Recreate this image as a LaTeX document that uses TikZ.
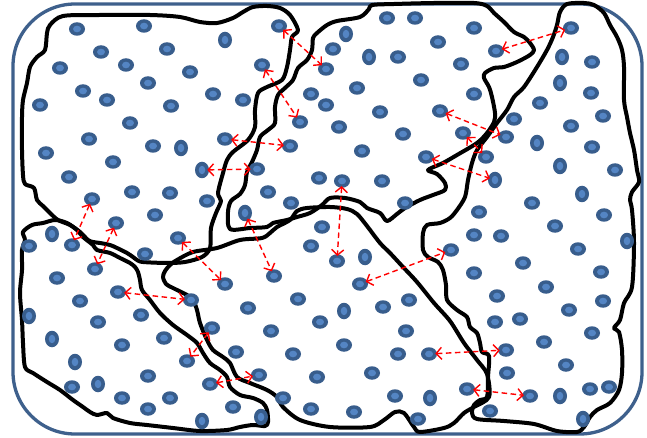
\documentclass[tikz,border=0pt]{standalone}
\usetikzlibrary{shapes.geometric,arrows.meta}
\definecolor{frameblue}{RGB}{62,96,140}
\definecolor{dotout}{RGB}{56,93,140}
\definecolor{dotin}{RGB}{84,133,196}
\definecolor{arrred}{RGB}{255,0,0}
\tikzset{
  region/.style={draw=black, line width=4pt, line join=round, line cap=round},
  frame/.style={draw=frameblue, line width=3.3pt, rounded corners=62pt},
  dotw/.style={ellipse, inner sep=0pt, minimum width=16pt, minimum height=13.5pt, fill=dotout,
    path picture={\fill[dotin] (path picture bounding box.center) ellipse (4pt and 3.3pt);}},
  dott/.style={ellipse, inner sep=0pt, minimum width=14pt, minimum height=16.5pt, fill=dotout,
    path picture={\fill[dotin] (path picture bounding box.center) ellipse (3.3pt and 4.2pt);}},
  arr/.style={draw=arrred, line width=1.4pt, dash pattern=on 5.5pt off 3.5pt,
    {Straight Barb[length=5.5pt,width=12pt,line width=1.4pt]}-{Straight Barb[length=5.5pt,width=12pt,line width=1.4pt]},
    shorten >=-2pt, shorten <=-2pt}
}
\begin{document}
\begin{tikzpicture}[x=1pt,y=-1pt]
\useasboundingbox (0,0) rectangle (647,438);
\fill[white] (0,0) rectangle (647,438);
\draw[frame] (13,4) rectangle (642,434);

% region A (top left)
\draw[region] plot[smooth cycle, tension=0.5] coordinates {
(63,16) (100,15) (150,15) (180,17) (200,22) (217,23) (233,18) (243,12) (253,7) (267,6) (280,8) (290,15) (298,30) (292,37) (290,50) (287,67) (282,80) (267,87) (258,93) (255,110) (255,127) (248,140) (233,152) (227,160) (223,173) (218,193) (221,201) (216,213) (211,228) (210,248) (202,257) (185,262) (167,263) (143,262) (137,260) (133,257) (127,253) (117,248) (110,245) (100,243) (93,242) (88,240) (80,232) (70,225) (58,220) (50,213) (43,206) (37,200) (34,188) (25,184) (23,175) (22,150) (22,117) (23,100) (27,83) (30,67) (37,57) (45,50) (47,33) (50,25)};

% region B (top middle)
\draw[region] plot[smooth cycle, tension=0.5] coordinates {
(317,33) (327,25) (337,21) (360,17) (369,9) (372,5) (394,4) (434,3) (474,3) (487,6) (494,13) (504,22) (514,32) (524,37) (530,43) (534,50) (530,55) (517,62) (504,67) (494,68) (485,73) (484,78) (489,87) (492,97) (495,113) (494,122) (487,133) (477,143) (457,155) (443,163) (428,170) (437,174) (445,183) (445,190) (433,195) (420,200) (405,208) (397,214) (387,221) (380,213) (367,208) (360,202) (345,198) (330,198) (322,205) (310,213) (297,217) (287,220) (273,223) (267,227) (250,228) (230,229) (228,212) (231,201) (240,194) (245,185) (247,172) (252,162) (257,150) (260,137) (268,130) (275,123) (275,107) (278,95) (285,88) (293,80) (298,68) (307,60) (312,50) (313,38)};

% region C (bottom middle)
\draw[region] plot[smooth cycle, tension=0.5] coordinates {
(165,271) (170,265) (177,260) (193,252) (217,248) (240,240) (262,238) (270,233) (277,227) (290,220) (297,211) (307,208) (330,207) (347,209) (357,214) (367,226) (380,243) (390,253) (403,267) (417,282) (434,303) (450,321) (464,343) (477,360) (487,374) (489,397) (474,407) (464,413) (454,423) (444,428) (420,432) (414,427) (404,413) (395,412) (384,420) (370,427) (330,427) (300,420) (283,407) (277,397) (267,390) (250,383) (237,377) (230,363) (223,357) (213,350) (207,340) (200,323) (197,310) (193,300) (187,295) (173,288) (166,284) (163,277)};

% region D (right)
\draw[region] plot[smooth cycle, tension=0.5] coordinates {
(567,4) (560,12) (557,25) (553,37) (547,50) (537,67) (524,87) (514,97) (507,110) (497,123) (487,137) (477,150) (472,163) (468,180) (465,197) (457,210) (450,218) (440,223) (427,225) (423,233) (423,250) (428,257) (438,262) (443,270) (446,285) (447,300) (457,310) (467,317) (470,327) (477,333) (480,343) (482,352) (489,356) (488,377) (487,397) (480,400) (474,405) (472,413) (477,419) (504,421) (534,424) (557,431) (577,432) (584,427) (590,417) (597,410) (610,403) (619,390) (622,373) (622,350) (619,332) (614,328) (620,320) (624,303) (632,287) (634,243) (632,210) (630,200) (632,192) (639,182) (637,170) (634,150) (630,133) (627,117) (624,100) (624,67) (622,50) (617,37) (610,25) (604,13) (594,5) (584,3)};

% region E (bottom left)
\draw[region] plot[smooth cycle, tension=0.5] coordinates {
(23,232) (32,225) (43,223) (55,220) (67,223) (77,230) (83,237) (93,245) (97,250) (110,253) (120,258) (130,263) (135,267) (138,272) (140,280) (142,290) (150,300) (160,313) (173,325) (187,335) (197,343) (203,353) (210,363) (220,370) (227,377) (230,387) (240,395) (253,398) (263,403) (267,410) (268,422) (265,426) (253,425) (240,427) (227,430) (200,431) (173,428) (147,425) (130,423) (113,418) (107,413) (97,415) (90,412) (83,407) (73,400) (60,390) (47,382) (33,373) (25,367) (23,343) (22,320) (20,293) (22,270) (22,250) (25,240)};

% plain dots (wide)
\foreach \x/\y [count=\i] in {77/29,144/26,101/52,167/49,60/68,126/65,190/72,148/83,83/91,107/100,40/105,171/106,213/94,243/100,130/123,89/139,153/146,46/153,113/162,69/177,132/192,170/193,207/201,155/215,145/254,
387/18,415/18,474/28,438/42,333/49,398/57,461/64,421/80,357/88,474/94,311/94,326/105,380/112,339/127,403/134,362/151,319/178,382/181,268/192,291/203,405/203,
540/103,603/116,514/119,571/126,592/147,615/170,479/212,604/215,555/226,501/236,474/235,578/249,523/263,601/272,474/273,546/287,497/296,603/301,569/310,495/322,520/319,592/333,544/342,566/365,507/373,590/389,609/387,490/411,592/62,591/93,532/203,
322/227,311/246,298/299,248/308,271/331,320/322,383/307,409/300,406/331,293/354,344/345,398/354,236/352,317/377,283/398,311/409,372/373,395/396,354/412,418/419,
29/246,57/278,80/301,141/315,98/322,122/345,164/338,148/376,72/387,122/398,170/398,148/409,233/407}
  \node[dotw] (w\i) at (\x,\y) {};

% plain dots (tall)
\foreach \x/\y [count=\i] in {225/40,181/148,346/34,369/57,562/57,560/83,537/143,560/166,582/194,627/241,560/396,583/419,365/257,344/311,430/398,52/234,29/316,52/339,75/362,98/384,202/421,261/417}
  \node[dott] (t\i) at (\x,\y) {};

% dots joined by arrows
\node[dotw] (p1a) at (279,26) {};
\node[dotw] (p1b) at (326,69) {};
\node[dotw] (p2a) at (262,65) {};
\node[dotw] (p2b) at (300,122) {};
\node[dotw] (p3a) at (225,139) {};
\node[dotw] (p3b) at (290,146) {};
\node[dott] (p4a) at (202,170) {};
\node[dotw] (p4b) at (257,169) {};
\node[dotw] (p5a) at (496,51) {};
\node[dotw] (p5b) at (571,28) {};
\node[dotw] (p6a) at (440,111) {};
\node[dotw] (p6b) at (506,137) {};
\node[dotw] (p7a) at (463,133) {};
\node[dotw] (p7b) at (486,157) {};
\node[dotw] (p8a) at (426,157) {};
\node[dott] (p8b) at (495,180) {};
\node[dotw] (p9a) at (342,181) {};
\node[dotw] (p9b) at (337,261) {};
\node[dotw] (p10a) at (92,199) {};
\node[dotw] (p10b) at (72,245) {};
\node[dotw] (p11a) at (116,223) {};
\node[dotw] (p11b) at (95,269) {};
\node[dotw] (p12a) at (178,238) {};
\node[dotw] (p12b) at (225,284) {};
\node[dott] (p13a) at (245,213) {};
\node[dotw] (p13b) at (274,276) {};
\node[dotw] (p14a) at (118,292) {};
\node[dotw] (p14b) at (191,300) {};
\node[dotw] (p15a) at (212,328) {};
\node[dotw] (p15b) at (187,361) {};
\node[dotw] (p16a) at (210,384) {};
\node[dotw] (p16b) at (259,375) {};
\node[dotw] (p17a) at (360,284) {};
\node[dotw] (p17b) at (451,250) {};
\node[dotw] (p18a) at (429,354) {};
\node[dotw] (p18b) at (506,350) {};
\node[dotw] (p19a) at (467,389) {};
\node[dotw] (p19b) at (530,396) {};

% arrows
\foreach \k in {1,...,19}
  \draw[arr] (p\k a) -- (p\k b);
\end{tikzpicture}
\end{document}
